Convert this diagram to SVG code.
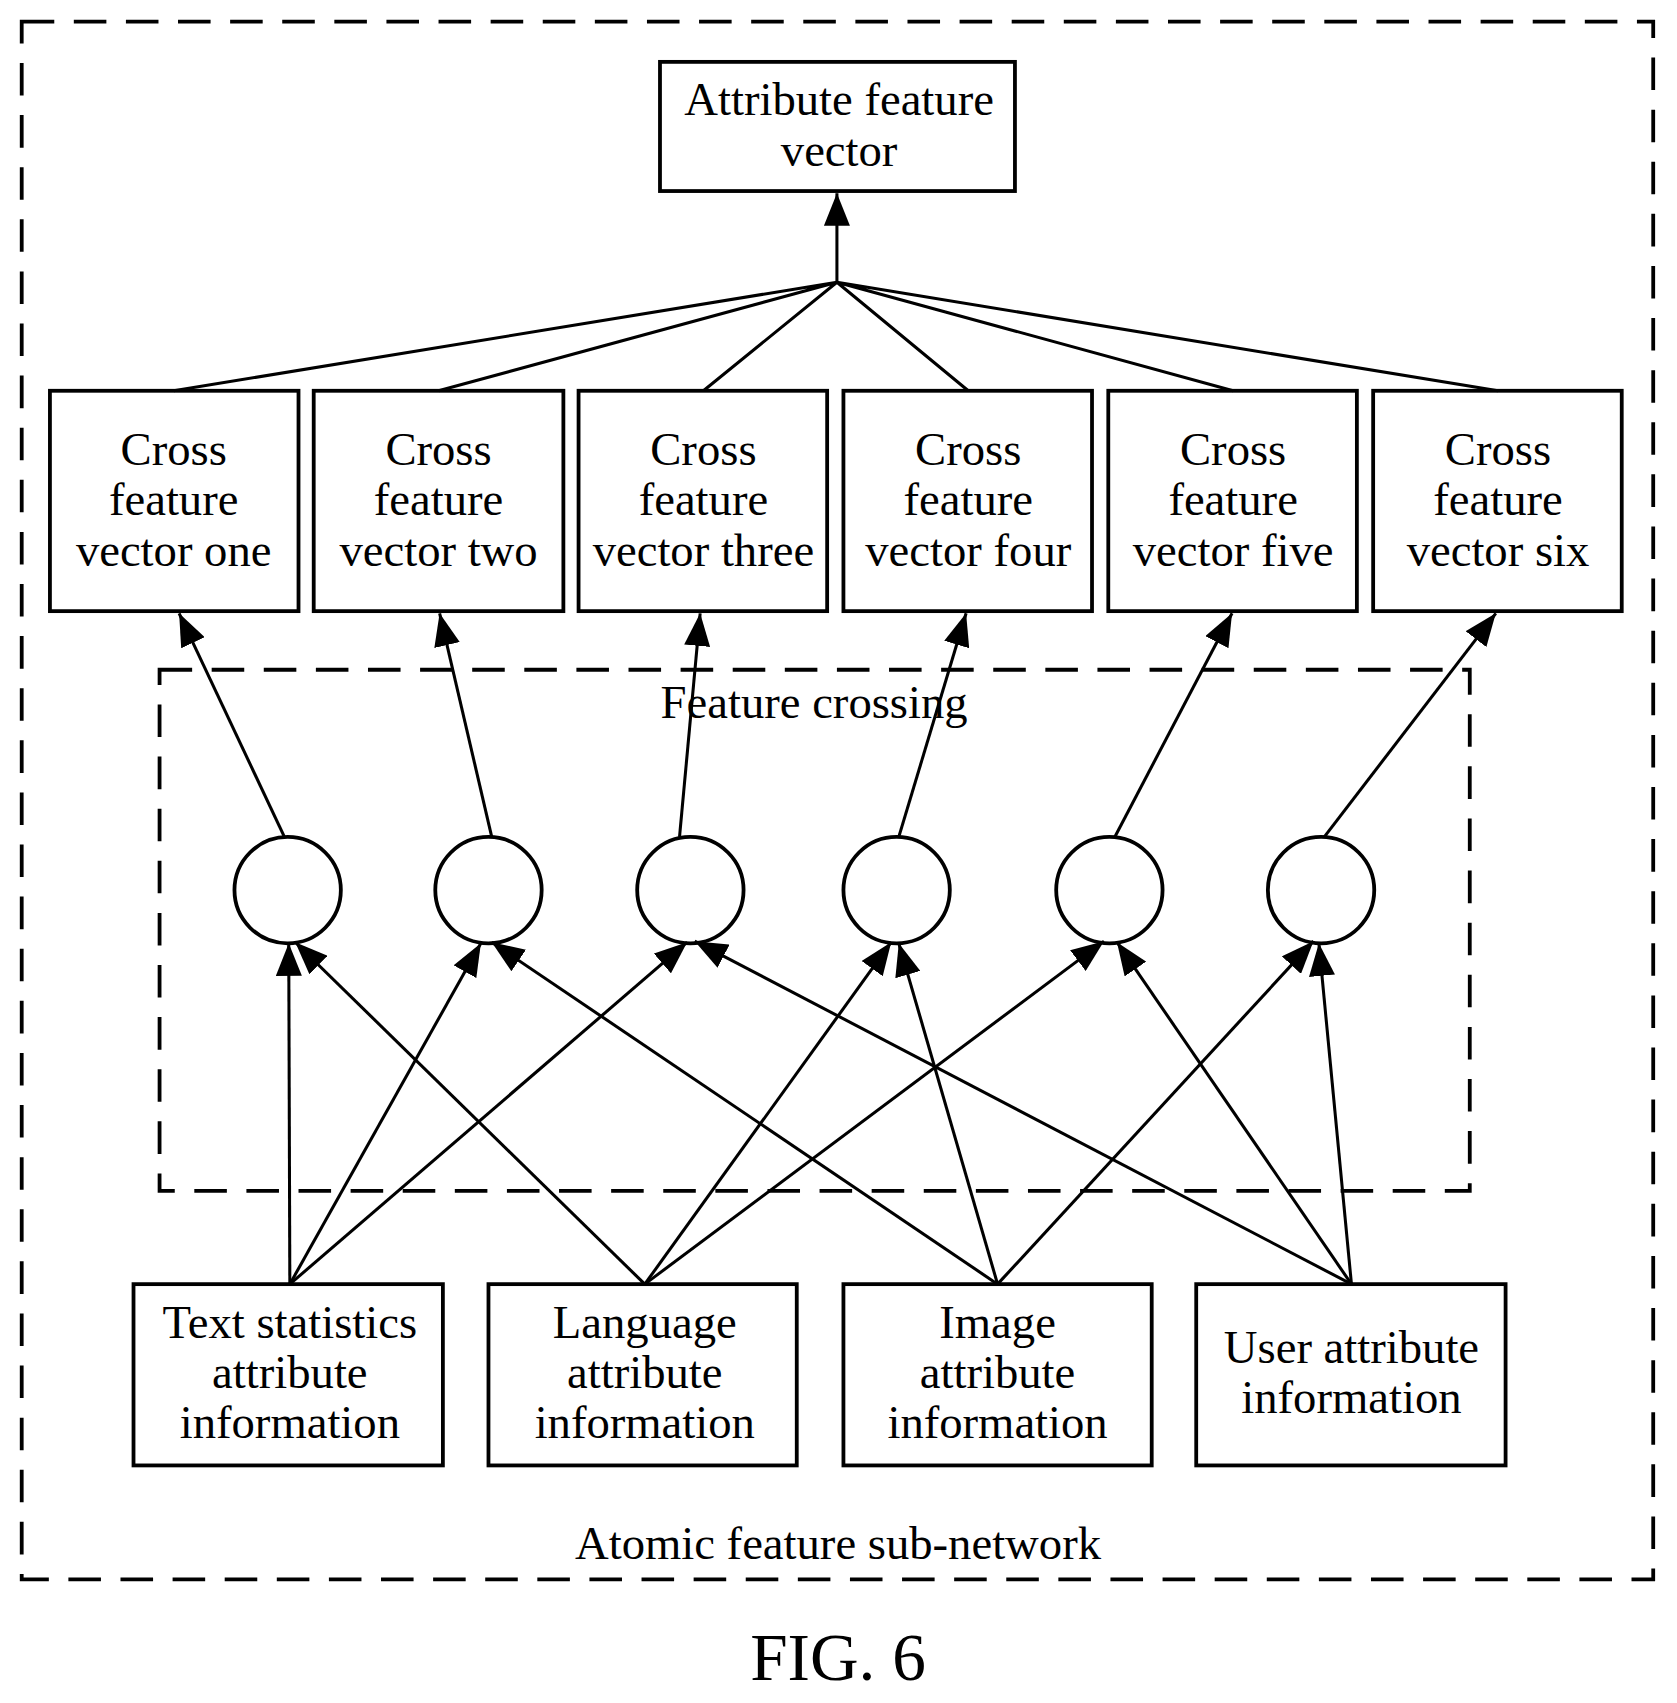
<svg xmlns="http://www.w3.org/2000/svg" width="1677" height="1703" viewBox="0 0 1677 1703">
<defs>
<style>
.b{fill:#fff;stroke:#000;stroke-width:3.5}
.d{fill:none;stroke:#000;stroke-width:3.5;stroke-dasharray:30,18}
.l{fill:none;stroke:#000;stroke-width:2.8}
.a{fill:none;stroke:#000;stroke-width:2.8;marker-end:url(#m)}
text{font-family:"Liberation Serif",serif;font-size:43px;text-anchor:middle;fill:#000}
</style>
<marker id="m" viewBox="0 0 30 24" refX="30" refY="12" markerWidth="30" markerHeight="24" markerUnits="userSpaceOnUse" orient="auto"><path d="M0,0 L30,12 L0,24 z"/></marker>
</defs>
<rect width="1677" height="1703" fill="#fff"/>
<g transform="scale(1.0855)">
<rect class="d" x="20" y="20" width="1503" height="1435"/>
<rect class="d" x="147" y="617" width="1207" height="480"/>
<text x="750" y="661">Feature crossing</text>
<text x="772" y="1436">Atomic feature sub-network</text>
<text x="772" y="1548" style="font-size:62px">FIG. 6</text>
<g id="top"><rect class="b" x="608" y="57" width="327" height="119"/><text x="773" y="106">Attribute feature</text><text x="773" y="153">vector</text></g>
<g id="c1"><rect class="b" x="46" y="360" width="229" height="203"/><text x="160" y="428">Cross</text><text x="160" y="474">feature</text><text x="160" y="521">vector one</text></g>
<g id="c2"><rect class="b" x="289" y="360" width="230" height="203"/><text x="404" y="428">Cross</text><text x="404" y="474">feature</text><text x="404" y="521">vector two</text></g>
<g id="c3"><rect class="b" x="533" y="360" width="229" height="203"/><text x="648" y="428">Cross</text><text x="648" y="474">feature</text><text x="648" y="521">vector three</text></g>
<g id="c4"><rect class="b" x="777" y="360" width="229" height="203"/><text x="892" y="428">Cross</text><text x="892" y="474">feature</text><text x="892" y="521">vector four</text></g>
<g id="c5"><rect class="b" x="1021" y="360" width="229" height="203"/><text x="1136" y="428">Cross</text><text x="1136" y="474">feature</text><text x="1136" y="521">vector five</text></g>
<g id="c6"><rect class="b" x="1265" y="360" width="229" height="203"/><text x="1380" y="428">Cross</text><text x="1380" y="474">feature</text><text x="1380" y="521">vector six</text></g>
<g id="n1"><circle class="b" cx="265" cy="820" r="49"/></g>
<g id="n2"><circle class="b" cx="450" cy="820" r="49"/></g>
<g id="n3"><circle class="b" cx="636" cy="820" r="49"/></g>
<g id="n4"><circle class="b" cx="826" cy="820" r="49"/></g>
<g id="n5"><circle class="b" cx="1022" cy="820" r="49"/></g>
<g id="n6"><circle class="b" cx="1217" cy="820" r="49"/></g>
<g id="i1"><rect class="b" x="123" y="1183" width="285" height="167"/><text x="267" y="1233">Text statistics</text><text x="267" y="1279">attribute</text><text x="267" y="1325">information</text></g>
<g id="i2"><rect class="b" x="450" y="1183" width="284" height="167"/><text x="594" y="1233">Language</text><text x="594" y="1279">attribute</text><text x="594" y="1325">information</text></g>
<g id="i3"><rect class="b" x="777" y="1183" width="284" height="167"/><text x="919" y="1233">Image</text><text x="919" y="1279">attribute</text><text x="919" y="1325">information</text></g>
<g id="i4"><rect class="b" x="1102" y="1183" width="285" height="167"/><text x="1245" y="1256">User attribute</text><text x="1245" y="1302">information</text></g>
<g id="connectors">
<path class="a" d="M771,260 L771,178"/>
<path class="l" d="M160,360 L771,260 M404,360 L771,260 M648,360 L771,260 M892,360 L771,260 M1136,360 L771,260 M1380,360 L771,260"/>
<path class="a" d="M262,771 L165,565"/>
<path class="a" d="M453,771 L405,565"/>
<path class="a" d="M626,771 L645,565"/>
<path class="a" d="M828,771 L890,565"/>
<path class="a" d="M1027,771 L1135,565"/>
<path class="a" d="M1220,771 L1378,565"/>
<path class="a" d="M267,1183 L266,869"/>
<path class="a" d="M267,1183 L443,869"/>
<path class="a" d="M267,1183 L633,868"/>
<path class="a" d="M594,1183 L272,868"/>
<path class="a" d="M594,1183 L821,868"/>
<path class="a" d="M594,1183 L1017,867"/>
<path class="a" d="M919,1183 L453,868"/>
<path class="a" d="M919,1183 L828,869"/>
<path class="a" d="M919,1183 L1210,867"/>
<path class="a" d="M1245,1183 L640,867"/>
<path class="a" d="M1245,1183 L1029,868"/>
<path class="a" d="M1245,1183 L1215,869"/>
</g>
</g>
</svg>
